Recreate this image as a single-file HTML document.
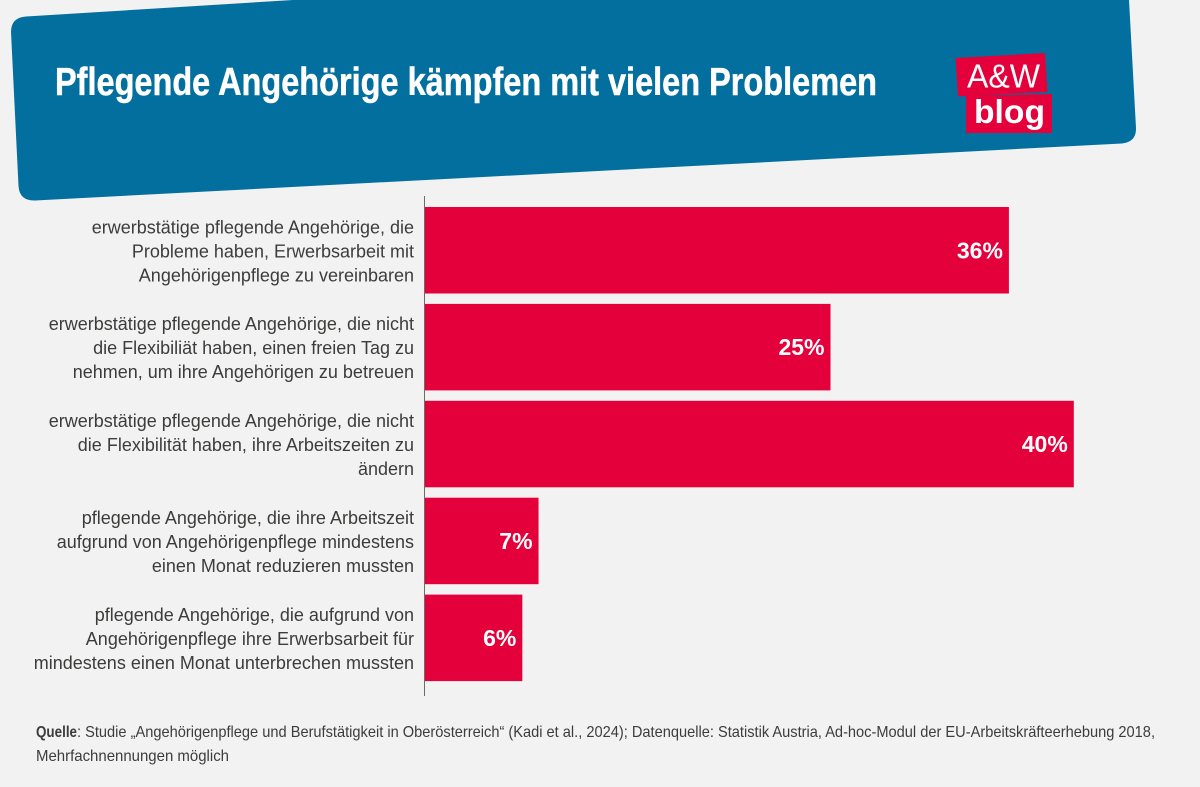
<!DOCTYPE html>
<html lang="de">
<head>
<meta charset="utf-8">
<title>Pflegende Angehörige kämpfen mit vielen Problemen</title>
<style>
html,body{margin:0;padding:0;background:#f2f2f2;}
svg{display:block;font-family:"Liberation Sans",sans-serif;}
</style>
</head>
<body>
<svg id="chart" xmlns="http://www.w3.org/2000/svg" width="1200" height="787" viewBox="0 0 1200 787">
  <rect x="0" y="0" width="1200" height="787" fill="#f2f2f2"/>
  <path fill="#036f9f" d="M26 16.5 L293 0 L1129 0 L1136 128 Q1136.500 142 1122 143.500 L35 200.500 Q19.500 201 18.500 186 L11 32 Q11 17.500 26 16.500 Z"/>
  <text x="55" y="95" font-family="'Liberation Sans Narrow','Liberation Sans',sans-serif" font-size="39" font-weight="700" fill="#ffffff" stroke="#ffffff" stroke-width="0.5" textLength="822" lengthAdjust="spacingAndGlyphs">Pflegende Angehörige kämpfen mit vielen Problemen</text>
  <g>
    <polygon points="955.500,58 1045,53 1047.500,92 958,96.500" fill="#e4003a"/>
    <polygon points="966,95.500 1052,94 1052,133 966,133" fill="#e4003a"/>
    <text x="967" y="87.500" font-size="33" fill="#ffffff" textLength="73" lengthAdjust="spacingAndGlyphs">A&amp;W</text>
    <text x="974" y="123" font-size="33" font-weight="700" fill="#ffffff" textLength="71" lengthAdjust="spacingAndGlyphs">blog</text>
  </g>
  <g id="bars"></g>
  <g id="labels"></g>
  <line x1="424.500" y1="196" x2="424.500" y2="696" stroke="#6b6b6b" stroke-width="1"/>
  <g font-size="16" fill="#3c3c3b">
    <text x="36" y="737" font-weight="700" textLength="41" lengthAdjust="spacingAndGlyphs">Quelle</text>
    <text x="77" y="737" textLength="1078" lengthAdjust="spacingAndGlyphs">: Studie „Angehörigenpflege und Berufstätigkeit in Oberösterreich“ (Kadi et al., 2024); Datenquelle: Statistik Austria, Ad-hoc-Modul der EU-Arbeitskräfteerhebung 2018,</text>
    <text x="36" y="761" textLength="193" lengthAdjust="spacingAndGlyphs">Mehrfachnennungen möglich</text>
  </g>
</svg>
<script>
const categories = [
  ["erwerbstätige pflegende Angehörige, die", "Probleme haben, Erwerbsarbeit mit", "Angehörigenpflege zu vereinbaren"],
  ["erwerbstätige pflegende Angehörige, die nicht", "die Flexibiliät haben, einen freien Tag zu", "nehmen, um ihre Angehörigen zu betreuen"],
  ["erwerbstätige pflegende Angehörige, die nicht", "die Flexibilität haben, ihre Arbeitszeiten zu", "ändern"],
  ["pflegende Angehörige, die ihre Arbeitszeit", "aufgrund von Angehörigenpflege mindestens", "einen Monat reduzieren mussten"],
  ["pflegende Angehörige, die aufgrund von", "Angehörigenpflege ihre Erwerbsarbeit für", "mindestens einen Monat unterbrechen mussten"]
];
const values = [36, 25, 40, 7, 6];

const NS = 'http://www.w3.org/2000/svg';
function xScale(v) { return 425 + v * 16.22; }
function bandTop(i) { return 207 + i * 96.9; }
const BAND_HEIGHT = 86.5;
const barsGroup = document.getElementById('bars');
const labelsGroup = document.getElementById('labels');

values.forEach(function (value, i) {
  const top = bandTop(i);
  const mid = top + BAND_HEIGHT / 2;

  const bar = document.createElementNS(NS, 'rect');
  
  
  bar.setAttribute('x', xScale(0));
  bar.setAttribute('y', top);
  bar.setAttribute('width', xScale(value) - xScale(0));
  bar.setAttribute('height', BAND_HEIGHT);
  bar.setAttribute('fill', '#e4003a');
  barsGroup.appendChild(bar);

  const valueLabel = document.createElementNS(NS, 'text');
  
  
  valueLabel.setAttribute('x', xScale(value) - 6);
  valueLabel.setAttribute('y', mid + 8);
  valueLabel.setAttribute('text-anchor', 'end');
  valueLabel.setAttribute('font-size', '23');
  valueLabel.setAttribute('font-weight', '700');
  valueLabel.setAttribute('fill', '#ffffff');
  valueLabel.textContent = value + '%';
  barsGroup.appendChild(valueLabel);

  categories[i].forEach(function (line, j) {
    const label = document.createElementNS(NS, 'text');
    
    
    label.setAttribute('x', 414);
    label.setAttribute('y', mid - 17 + j * 24);
    label.setAttribute('text-anchor', 'end');
    label.setAttribute('font-size', '18');
    label.setAttribute('fill', '#3c3c3b');
    label.textContent = line;
    labelsGroup.appendChild(label);
  });
});
</script>
</body>
</html>
